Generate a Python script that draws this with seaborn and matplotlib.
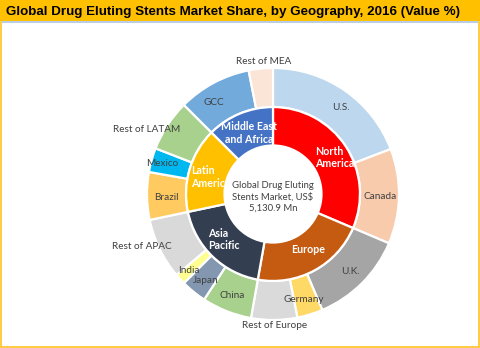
import numpy as np
import matplotlib
matplotlib.use("Agg")
import matplotlib.pyplot as plt
import seaborn as sns
from matplotlib.patches import Rectangle, Circle

# ---------------- data ----------------
title = "Global Drug Eluting Stents Market Share, by Geography, 2016 (Value %)"
center_text = "Global Drug Eluting\nStents Market, US$\n5,130.9 Mn"

regions = ["North\nAmerica", "Europe", "Asia\nPacific", "Latin\nAmerica", "Middle East\nand Africa"]
region_share = [31.4, 21.4, 18.9, 15.8, 12.5]
region_colors = ["#FF0000", "#C55A11", "#333F50", "#FFC000", "#4472C4"]

countries = ["U.S.", "Canada",
             "U.K.", "Germany", "Rest of Europe",
             "China", "Japan", "India", "Rest of APAC",
             "Brazil", "Mexico", "Rest of LATAM",
             "GCC", "Rest of MEA"]
country_share = [19.2, 12.2,
                 12.2, 3.3, 5.9,
                 6.4, 3.3, 1.4, 7.8,
                 6.1, 3.1, 6.6,
                 9.4, 3.1]
country_colors = ["#BDD7EE", "#F8CBAD",
                  "#A5A5A5", "#FFD966", "#DADADA",
                  "#A9D18E", "#8497B0", "#FFFF8F", "#D9D9D9",
                  "#FFCA5F", "#00B8F0", "#A9D18E",
                  "#72AADC", "#FBE5D6"]

# label placement tweaks: (radius, angle offset in degrees, ha)
outer_place = {
    "U.S.": (0.87, 3.5, "center"), "Canada": (0.85, 0, "center"),
    "U.K.": (0.87, 0, "center"), "Germany": (0.87, 1, "center"),
    "Rest of Europe": (1.04, 0, "center"),
    "China": (0.87, 0, "center"), "Japan": (0.87, -1, "center"),
    "India": (0.90, 0, "center"), "Rest of APAC": (1.12, 4, "center"),
    "Brazil": (0.85, -1, "center"), "Mexico": (0.91, 0, "center"),
    "Rest of LATAM": (1.13, -6, "center"),
    "GCC": (0.865, -5, "center"), "Rest of MEA": (1.055, 1.5, "center"),
}
inner_place = {
    "North\nAmerica": (0.441, -7.5, "left"), "Europe": (0.52, -4.3, "center"),
    "Asia\nPacific": (0.63, 10.7, "left"), "Latin\nAmerica": (0.665, -4.8, "left"),
    "Middle East\nand Africa": (0.52, 1, "center"),
}

# ---------------- figure ----------------
sns.set_theme(style="white")
plt.rcParams["font.family"] = ["Lato", "DejaVu Sans"]

W, H = 480, 348
fig = plt.figure(figsize=(W / 100, H / 100), dpi=100)
fig.patch.set_facecolor("white")

# frame / title band
fig.patches.append(Rectangle((0, 1 - 21 / H), 1, 21 / H, transform=fig.transFigure,
                             facecolor="#FFC000", edgecolor="none", zorder=0))
fig.patches.append(Rectangle((0, 1 - 23 / H), 1, 2 / H, transform=fig.transFigure,
                             facecolor="#B9CDE5", edgecolor="none", zorder=0))
for (x0, y0, w, h) in [(0, 0, 1.5 / W, 1 - 21 / H), (1 - 2 / W, 0, 2 / W, 1 - 21 / H),
                       (0, 0, 1, 2 / H)]:
    fig.patches.append(Rectangle((x0, y0), w, h, transform=fig.transFigure,
                                 facecolor="#FFCC44", edgecolor="none", zorder=0))
fig.text(6 / W, 1 - 11.5 / H, title, ha="left", va="center", fontsize=9.6,
         fontweight="bold", color="black",
         family=["Liberation Sans", "DejaVu Sans"])

# donut axes: units = outer radius (126 px), centre at (273, 194) px from top
R = 126.0
cx, cy = 273.0, 194.0
ax = fig.add_axes([0, 0, 1, 1])
ax.patch.set_alpha(0)

r_out, r_mid, r_hole = 1.0, 0.69, 0.385
ax.pie(country_share, radius=r_out, startangle=90, counterclock=False,
       colors=country_colors,
       wedgeprops=dict(width=r_out - r_mid, edgecolor="white", linewidth=1.6))
ax.pie(region_share, radius=r_mid, startangle=90, counterclock=False,
       colors=region_colors,
       wedgeprops=dict(edgecolor="white", linewidth=1.6))
ax.set_xlim(-cx / R, (W - cx) / R)
ax.set_ylim(-(H - cy) / R, cy / R)
ax.set_axis_off()


def mid_angles(vals):
    v = np.asarray(vals, float)
    c = np.cumsum(v) / v.sum() * 360
    return c - v / v.sum() * 360 / 2


def pos(r, theta):
    t = np.deg2rad(theta)
    return r * np.sin(t), r * np.cos(t)


for name, th in zip(countries, mid_angles(country_share)):
    r, off, ha = outer_place[name]
    x, y = pos(r, th + off)
    ax.text(x, y, name, ha=ha, va="center", fontsize=7.2, color="#404040", zorder=3)

for name, th in zip(regions, mid_angles(region_share)):
    r, off, ha = inner_place[name]
    x, y = pos(r, th + off)
    ax.text(x, y, name, ha=ha, va="center", fontsize=7.7, color="white",
            fontweight="bold", linespacing=1.15, zorder=3, multialignment=ha)

ax.add_patch(Circle((0, 0), r_hole, facecolor="white", edgecolor="white",
                    linewidth=1.6, zorder=4))
ax.text(0, -0.02, center_text, ha="center", va="center", fontsize=6.8,
        color="#404040", linespacing=1.3, zorder=5)

fig.savefig("out.png", dpi=100)
